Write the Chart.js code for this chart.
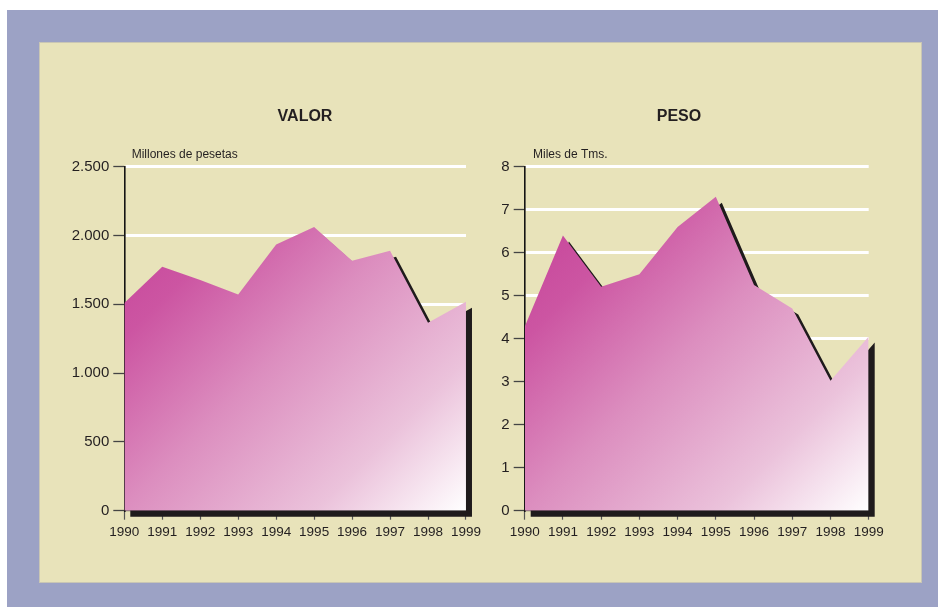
<!DOCTYPE html>
<html>
<head>
<meta charset="utf-8">
<script src="https://cdn.jsdelivr.net/npm/chart.js@4"></script>
<style>
  html, body { margin: 0; padding: 0; background: #ffffff; }
  body { width: 938px; height: 607px; position: relative; overflow: hidden; }
  #frame { position: absolute; left: 7px; top: 10px; width: 931px; height: 597px; background: #9CA2C5; }
  #panel { position: absolute; left: 39px; top: 42px; width: 881px; height: 539px; background: #E8E3BA; border: 1px solid #C9C6B4; }
  canvas { position: absolute; }
</style>
</head>
<body>
<div id="frame"></div>
<div id="panel"></div>
<canvas id="cValor" width="445" height="480" style="left:40px; top:80px;"></canvas>
<canvas id="cPeso" width="445" height="480" style="left:485px; top:80px;"></canvas>
<script>
// ---- data ----
const years = ['1990','1991','1992','1993','1994','1995','1996','1997','1998','1999'];
const valorValues = [1510, 1773, 1676, 1572, 1935, 2061, 1817, 1890, 1366, 1519];
const pesoValues = [4.28, 6.4, 5.21, 5.5, 6.6, 7.3, 5.25, 4.7, 3.02, 4.05];
const valorTickLabels = ['0', '500', '1.000', '1.500', '2.000', '2.500'];
const pesoTickLabels = ['0', '1', '2', '3', '4', '5', '6', '7', '8'];
const titles = ['VALOR', 'PESO'];
const units = ['Millones de pesetas', 'Miles de Tms.'];

const SHADOW = 6;

const shadowPlugin = {
  id: 'dropShadow',
  beforeDatasetsDraw(chart) {
    const ctx = chart.ctx;
    const yScale = chart.scales.y;
    const base = yScale.getPixelForValue(0);
    chart.data.datasets.forEach((ds, i) => {
      const pts = chart.getDatasetMeta(i).data;
      if (!pts.length) return;
      ctx.save();
      ctx.translate(SHADOW, SHADOW);
      ctx.beginPath();
      ctx.moveTo(pts[0].x, base);
      pts.forEach(p => ctx.lineTo(p.x, p.y));
      ctx.lineTo(pts[pts.length - 1].x, base);
      ctx.closePath();
      ctx.fillStyle = '#1F1B1C';
      ctx.fill();
      ctx.restore();
    });
  }
};

const textPlugin = {
  id: 'panelText',
  afterDraw(chart, args, opts) {
    const ctx = chart.ctx;
    const a = chart.chartArea;
    ctx.save();
    ctx.fillStyle = '#231F20';
    ctx.font = 'bold 16px "Liberation Sans", Arial, sans-serif';
    ctx.textAlign = 'center';
    ctx.textBaseline = 'middle';
    ctx.fillText(opts.title, a.left + opts.titleDx, a.top - 50);
    ctx.font = '12px "Liberation Sans", Arial, sans-serif';
    ctx.textAlign = 'left';
    ctx.textBaseline = 'alphabetic';
    ctx.fillText(opts.unit, a.left + opts.unitDx, a.top - 9);
    ctx.restore();
  }
};

function makeChart(id, values, max, step, tickLabels, title, unit, titleDx, unitDx, yWidth, padRight) {
  const ctx = document.getElementById(id).getContext('2d');
  return new Chart(ctx, {
    type: 'line',
    data: {
      labels: years,
      datasets: [{
        data: values,
        fill: 'origin',
        borderColor: 'rgba(0,0,0,0)',
        borderWidth: 0,
        pointRadius: 0,
        tension: 0,
        clip: false,
        backgroundColor(c) {
          const a = c.chart.chartArea;
          if (!a) return '#D070AA';
          const g = c.chart.ctx.createLinearGradient(a.left, a.top, a.right, a.bottom);
          g.addColorStop(0, '#C43C96');
          g.addColorStop(0.25, '#CC55A2');
          g.addColorStop(0.5, '#DC8EBF');
          g.addColorStop(0.78, '#EBC2DB');
          g.addColorStop(1, '#FFFFFF');
          return g;
        }
      }]
    },
    options: {
      responsive: false,
      animation: false,
      devicePixelRatio: 1,
      layout: { padding: { left: 0, top: 86.7, right: padRight, bottom: 19.3 } },
      plugins: {
        legend: { display: false },
        tooltip: { enabled: false },
        panelText: { title: title, unit: unit, titleDx: titleDx, unitDx: unitDx }
      },
      scales: {
        x: {
          type: 'category',
          offset: false,
          afterFit(s) { s.height = 30; },
          grid: { drawOnChartArea: false, drawTicks: true, tickLength: 9, tickColor: '#555555', tickWidth: 1.2 },
          border: { display: true, color: '#6E6A66', width: 1.2 },
          ticks: {
            color: '#231F20',
            padding: 4,
            maxRotation: 0,
            autoSkip: false,
            font: { family: '"Liberation Sans", Arial, sans-serif', size: 13.5 }
          }
        },
        y: {
          min: 0,
          max: max,
          afterFit(s) { s.width = yWidth; },
          grid: {
            color(c) { return c.tick && c.tick.value === 0 ? 'rgba(0,0,0,0)' : '#FFFFFF'; },
            lineWidth: 3,
            tickColor: '#444444',
            tickWidth: 1.3,
            tickLength: 11,
            drawTicks: true
          },
          border: { display: true, color: '#141414', width: 1.6 },
          ticks: {
            stepSize: step,
            color: '#231F20',
            padding: 4,
            font: { family: '"Liberation Sans", Arial, sans-serif', size: 15 },
            callback(v, i) { return tickLabels[i]; }
          }
        }
      }
    },
    plugins: [shadowPlugin, textPlugin]
  });
}

makeChart('cValor', valorValues, 2500, 500, valorTickLabels, titles[0], units[0], 180.7, 7.4, 84.3, 17.7);
makeChart('cPeso', pesoValues, 8, 1, pesoTickLabels, titles[1], units[1], 154.3, 8.3, 39.7, 61.3);
</script>
</body>
</html>
